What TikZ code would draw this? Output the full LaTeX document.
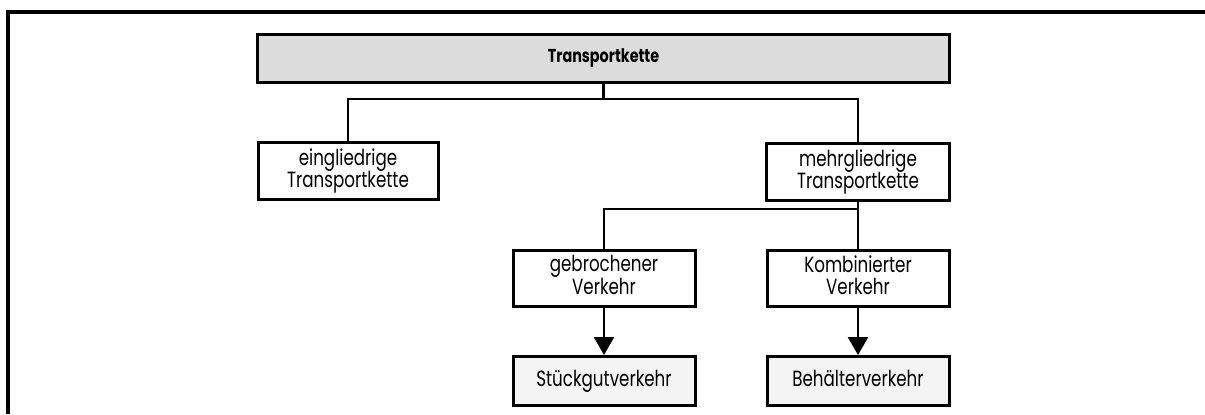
\documentclass[tikz,border=0pt]{standalone}
\usepackage{fontspec}
\setmainfont{Poppins}
\usetikzlibrary{arrows.meta}
% horizontally condensed, centred block of lines
\newcommand\sqz[2]{\scalebox{#1}[1]{\begin{tabular}{@{}c@{}}#2\end{tabular}}}
\definecolor{headgray}{HTML}{DCDCDC}
\definecolor{leafgray}{HTML}{F4F4F4}

\begin{document}
\begin{tikzpicture}[x=0.75pt,y=-0.75pt,
  box/.style={draw=black,line width=2.25pt,inner sep=0pt,fill=white,
    minimum width=182*0.75pt,minimum height=56*0.75pt,
    font=\fontsize{16.5}{15.5}\selectfont},
  headbox/.style={box,fill=headgray,minimum width=692*0.75pt,minimum height=48*0.75pt,
    font=\fontsize{14}{15}\selectfont\bfseries},
  leafbox/.style={box,fill=leafgray,minimum height=49*0.75pt},
  link/.style={draw=black,line width=2.1pt},
  arrowlink/.style={link,-{Triangle[length=13.5pt,width=15pt]}}]

\useasboundingbox (0,0) rectangle (1205,414);

% outer frame (top and left edges)
\draw[line width=2.5pt] (1205,12) -- (8,12) -- (8,414);

% boxes
\node[headbox] (kette) at (603.5,58.5) {\sqz{0.77}{Transportkette}};
\node[box,minimum width=180*0.75pt,minimum height=57*0.75pt] (eing) at (348,171)
  {\sqz{0.76}{eingliedrige\\Transportkette}};
\node[box,minimum width=183*0.75pt,minimum height=57*0.75pt] (mehr) at (858,172)
  {\sqz{0.76}{mehrgliedrige\\Transportkette}};
\node[box] (gebr) at (604,278) {\sqz{0.76}{gebrochener\\Verkehr}};
\node[box] (komb) at (858,278) {\sqz{0.76}{Kombinierter\\Verkehr}};
\node[leafbox] (stueck) at (604,381) {\sqz{0.76}{Stückgutverkehr}};
\node[leafbox] (behael) at (858,381) {\sqz{0.76}{Behälterverkehr}};

% junction points of the tree lines
\coordinate (j1) at (603.5,99);
\coordinate (j2) at (858,209);

% connectors
\draw[link] (kette.south) -- (j1);
\draw[link] (eing.north) |- (j1) -| (mehr.north);
\draw[link] (mehr.south) -- (komb.north);
\draw[link] (gebr.north) |- (j2);
\draw[arrowlink] (gebr.south) -- (stueck.north);
\draw[arrowlink] (komb.south) -- (behael.north);
\end{tikzpicture}
\end{document}
